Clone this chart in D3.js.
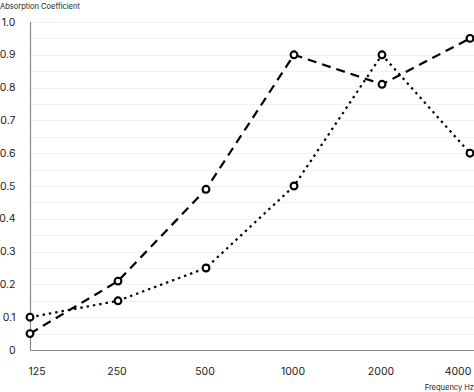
<!DOCTYPE html>
<html><head><meta charset="utf-8">
<script src="https://cdn.jsdelivr.net/npm/d3@7"></script>
<style>
html,body{margin:0;padding:0;background:#fff;}
svg{display:block;font-family:Inter, "Liberation Sans", sans-serif;}
</style></head><body>
<svg id="c" width="474" height="392"></svg>
<script>
const frequencies = ["125","250","500","1000","2000","4000"];
const seriesDashed = [0.05, 0.21, 0.49, 0.90, 0.81, 0.95];
const seriesDotted = [0.10, 0.15, 0.25, 0.50, 0.90, 0.60];
const yTicks = [0,0.1,0.2,0.3,0.4,0.5,0.6,0.7,0.8,0.9,1.0];
const gridTicks = d3.range(0, 1.0001, 0.05);

(function(){
const svg = d3.select("#c");
const mLeft = 30, mRight = 470, mTop = 22, mBottom = 350;
const x = d3.scalePoint().domain(frequencies).range([mLeft, mRight]);
const y = d3.scaleLinear().domain([0, 1]).range([mBottom, mTop]);

svg.append("g").selectAll("line").data(gridTicks).join("line")
  .attr("x1", mLeft).attr("x2", 474)
  .attr("y1", d => Math.round(y(d)) + 0.5).attr("y2", d => Math.round(y(d)) + 0.5)
  .attr("stroke", "#f2f2f2").attr("stroke-width", 1);

svg.append("line").attr("x1", mLeft + 0.5).attr("x2", mLeft + 0.5).attr("y1", mTop).attr("y2", mBottom)
  .attr("stroke", "#8a8a8a").attr("stroke-width", 1.2);
svg.append("line").attr("x1", mLeft).attr("x2", 474).attr("y1", mBottom + 0.5).attr("y2", mBottom + 0.5)
  .attr("stroke", "#8a8a8a").attr("stroke-width", 1.2);

svg.append("g").selectAll("text").data(yTicks).join("text")
  .attr("x", 15.5).attr("y", d => y(d)).attr("dy", "0.35em")
  .attr("text-anchor", "end").attr("font-size", 10.5).attr("fill", "#222")
  .text(d => d === 0 ? "0" : d.toFixed(1));

svg.append("g").selectAll("text").data(frequencies).join("text")
  .attr("x", (d, i) => x(d) + (i === 0 ? 7 : i === frequencies.length - 1 ? -12 : -1))
  .attr("y", 371).attr("dy", "0.35em")
  .attr("text-anchor", "middle").attr("font-size", 10.5).attr("fill", "#222")
  .text(d => d);

svg.append("text").attr("x", 0).attr("y", 6).attr("dy", "0.35em")
  .attr("font-size", 7.5).attr("fill", "#222").text("Absorption Coefficient");
svg.append("text").attr("x", 474).attr("y", 387).attr("dy", "0.35em")
  .attr("text-anchor", "end").attr("font-size", 7.5).attr("fill", "#222").text("Frequency Hz");

const line = d3.line().x((d, i) => x(frequencies[i])).y(d => y(d));

function drawSeries(vals, dash) {
  svg.append("path").datum(vals).attr("d", line)
    .attr("fill", "none").attr("stroke", "#000").attr("stroke-width", 2.2)
    .attr("stroke-dasharray", dash);
  svg.append("g").selectAll("circle").data(vals).join("circle")
    .attr("cx", (d, i) => x(frequencies[i])).attr("cy", d => y(d)).attr("r", 3.4)
    .attr("fill", "#fff").attr("stroke", "#000").attr("stroke-width", 2.1);
}
drawSeries(seriesDashed, "9,6");
drawSeries(seriesDotted, "2.4,4");
})();
</script>
</body></html>
